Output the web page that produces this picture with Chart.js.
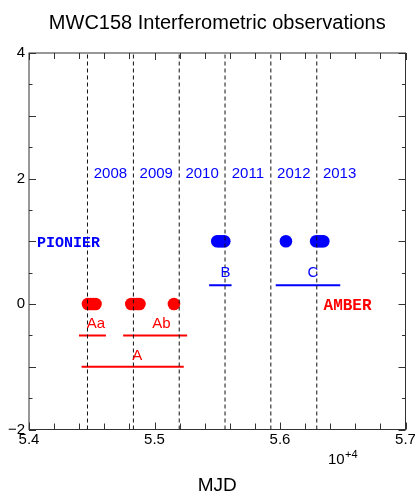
<!DOCTYPE html>
<html>
<head>
<meta charset="utf-8">
<script src="https://cdn.jsdelivr.net/npm/chart.js@4.4.1/dist/chart.umd.min.js"></script>
<style>
  html, body { margin: 0; padding: 0; background: #fff; }
  #wrap { width: 415px; height: 495px; }
</style>
</head>
<body>
<div id="wrap"><canvas id="chart"></canvas></div>
<script>
// year boundaries (MJD of Jan 1st) and year labels
const yearBounds = [54466, 54832, 55197, 55562, 55927, 56293];
const yearNames = ['2008', '2009', '2010', '2011', '2012', '2013'];
const yearMid = [54649, 55014, 55379, 55744, 56110, 56475];
const yearLabelY = 2.07;

// observation dates
const amberDates = [54470, 54490, 54510, 54530, 54815, 54838, 54860, 54880, 55155];
const pionierDates = [55500, 55518, 55538, 55556, 56047, 56288, 56308, 56328, 56345];

// period segments
const segNames = ['Aa', 'Ab', 'A', 'B', 'C'];
const segStart = [54398, 54750, 54419, 55435, 55966];
const segEnd = [54613, 55260, 55233, 55614, 56480];
const segLevel = [-0.5, -0.5, -1, 0.3, 0.3];
const segLabelX = [54533, 55056, 54862, 55565, 56262];
const segLabelY = [-0.31, -0.31, -0.83, 0.49, 0.49];
const segColor = ['#ff0000', '#ff0000', '#ff0000', '#0000ff', '#0000ff'];

// instrument labels
const instNames = ['PIONIER', 'AMBER'];
const instX = [54064, 56347];
const instY = [0.97, -0.03];
const instColor = ['#0000ff', '#ff0000'];
const instSize = [15, 16];

const xTickLabels = ['5.4', '5.5', '5.6', '5.7'];
const yTickLabels = ['-2', '0', '2', '4'];

const RED = '#ff0000', BLUE = '#0000ff';
const SANS = "'Liberation Sans', Arial, sans-serif";
const MONO = "'Liberation Mono', 'Courier New', monospace";

const datasets = [];

yearBounds.forEach(x => {
    datasets.push({
        type: 'line', data: [{ x: x, y: -2 }, { x: x, y: 4 }],
        borderColor: '#111', borderWidth: 1, borderDash: [4, 3],
        pointRadius: 0, order: 0
    });
});

datasets.push({
    label: 'AMBER', data: amberDates.map(d => ({ x: d, y: 0 })),
    backgroundColor: RED, borderWidth: 0, pointRadius: 6.3, order: 1
});
datasets.push({
    label: 'PIONIER', data: pionierDates.map(d => ({ x: d, y: 1 })),
    backgroundColor: BLUE, borderWidth: 0, pointRadius: 6.3, order: 1
});

segNames.forEach((n, i) => {
    datasets.push({
        type: 'line', label: n,
        data: [{ x: segStart[i], y: segLevel[i] }, { x: segEnd[i], y: segLevel[i] }],
        borderColor: segColor[i], borderWidth: 2, pointRadius: 0, order: 2
    });
});

const decor = {
    id: 'decor',
    beforeDatasetsDraw(chart) {
        const { ctx, chartArea: a, scales: { x, y } } = chart;
        ctx.save();
        ctx.strokeStyle = '#333';
        ctx.lineWidth = 1;
        ctx.beginPath();
        for (let v = 54000; v <= 57000; v += 200) {
            const px = Math.round(x.getPixelForValue(v)) + 0.5;
            const len = (v % 1000 === 0) ? 7 : 6;
            ctx.moveTo(px, a.bottom); ctx.lineTo(px, a.bottom - len);
            ctx.moveTo(px, a.top); ctx.lineTo(px, a.top + len);
        }
        for (let v = -2; v <= 4; v += 0.5) {
            const py = Math.round(y.getPixelForValue(v)) + 0.5;
            const len = Number.isInteger(v) ? 7 : 3.5;
            ctx.moveTo(a.left, py); ctx.lineTo(a.left + len, py);
            ctx.moveTo(a.right, py); ctx.lineTo(a.right - len, py);
        }
        ctx.stroke();
        ctx.strokeRect(a.left, a.top, a.right - a.left, a.bottom - a.top);
        ctx.restore();
    },
    afterDatasetsDraw(chart) {
        const { ctx, scales: { x, y } } = chart;
        ctx.save();
        ctx.textBaseline = 'middle';
        ctx.textAlign = 'center';
        ctx.font = '15px ' + SANS;
        ctx.fillStyle = BLUE;
        yearNames.forEach((t, i) => {
            ctx.fillText(t, x.getPixelForValue(yearMid[i]), y.getPixelForValue(yearLabelY));
        });
        segNames.forEach((t, i) => {
            ctx.fillStyle = segColor[i];
            ctx.fillText(t, x.getPixelForValue(segLabelX[i]), y.getPixelForValue(segLabelY[i]));
        });
        ctx.textAlign = 'left';
        instNames.forEach((t, i) => {
            ctx.fillStyle = instColor[i];
            ctx.font = 'bold ' + instSize[i] + 'px ' + MONO;
            ctx.fillText(t, x.getPixelForValue(instX[i]), y.getPixelForValue(instY[i]));
        });
        // axis multiplier
        ctx.fillStyle = '#000';
        ctx.font = '15px ' + SANS;
        ctx.fillText('10', 328, 460);
        ctx.font = '11px ' + SANS;
        ctx.fillText('+4', 345, 455);
        ctx.restore();
    }
};

new Chart(document.getElementById('chart'), {
    type: 'scatter',
    data: { datasets: datasets },
    options: {
        responsive: true, maintainAspectRatio: false,
        animation: false, events: [],
        layout: { padding: { top: 11, right: 9.5, bottom: 0, left: 0 } },
        plugins: {
            legend: { display: false },
            tooltip: { enabled: false },
            title: {
                display: true, text: 'MWC158 Interferometric observations',
                color: '#000', fullSize: false,
                font: { family: SANS, size: 20, weight: 'normal', lineHeight: 1.2 },
                padding: { top: 0, bottom: 18 }
            }
        },
        scales: {
            x: {
                type: 'linear', min: 54000, max: 57000,
                grid: { display: false, drawTicks: false },
                border: { display: false },
                ticks: {
                    stepSize: 1000, autoSkip: false, maxRotation: 0, padding: 1,
                    color: '#000', font: { family: SANS, size: 15 },
                    callback: v => xTickLabels[Math.round((v - 54000) / 1000)]
                },
                title: {
                    display: true, text: 'MJD', color: '#000',
                    font: { family: SANS, size: 19, lineHeight: 1 },
                    padding: { top: 0, bottom: 0 }
                },
                afterFit: s => { s.height = 65.5; s.paddingLeft = 0; s.paddingRight = 0; }
            },
            y: {
                min: -2, max: 4,
                grid: { display: false, drawTicks: false },
                border: { display: false },
                ticks: {
                    stepSize: 0.5, autoSkip: false, padding: 4,
                    color: '#000', font: { family: SANS, size: 15 },
                    callback: v => (v % 2 === 0) ? yTickLabels[(v + 2) / 2].replace('-', '\u2212') : ''
                },
                afterFit: s => { s.width = 29; s.paddingTop = 0; s.paddingBottom = 0; }
            }
        }
    },
    plugins: [decor]
});
</script>
</body>
</html>
